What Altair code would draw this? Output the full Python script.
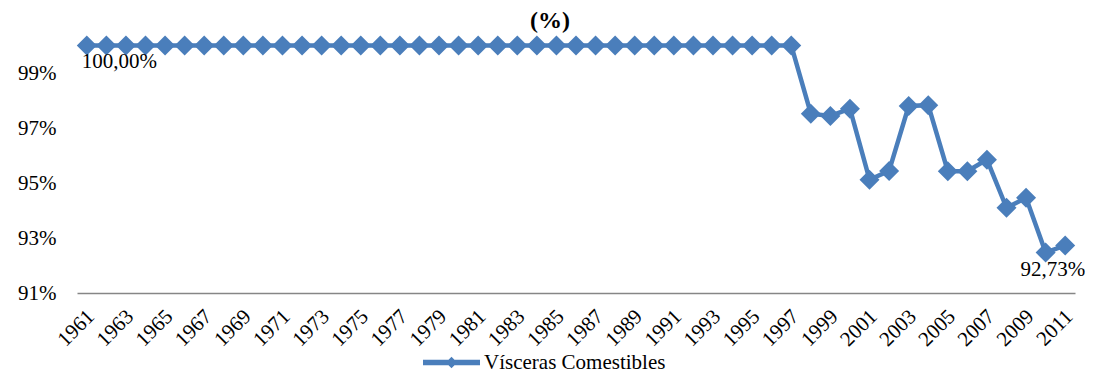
import altair as alt
import pandas as pd

years = list(range(1961, 2012))
flat_years = list(range(1961, 1998))
late_values = [97.52, 97.44, 97.70, 95.12, 95.44, 97.80, 97.83, 95.43, 95.43, 95.85,
               94.10, 94.46, 92.47, 92.73]
values = [100.0] * len(flat_years) + late_values
series_name = "Vísceras Comestibles"
tick_years = list(range(1961, 2012, 2))
y_ticks = [91, 93, 95, 97, 99]

df = pd.DataFrame({"year": years, "value": values, "series": series_name})
df["label"] = df["value"].map(lambda v: f"{v:.2f}".replace(".", ",") + "%")

BLUE = "#4A7EBB"
FONT = "Liberation Serif"
FS = 21

x = alt.X("year:Q",
          scale=alt.Scale(domain=[1960.5, 2011.5], nice=False, zero=False),
          axis=alt.Axis(values=tick_years, format="d", labelAngle=-45,
                        labelAlign="right", labelBaseline="middle",
                        labelPadding=20, labelOffset=4, ticks=False, grid=False,
                        domainColor="#868686", domainWidth=1.5,
                        labelFont=FONT, labelFontSize=FS, labelColor="black",
                        title=None, labelOverlap=False))
y = alt.Y("value:Q",
          scale=alt.Scale(domain=[91, 100.6], nice=False, zero=False),
          axis=alt.Axis(values=y_ticks, labelExpr="datum.value + '%'",
                        domain=False, ticks=False, grid=False, labelPadding=21,
                        labelFont=FONT, labelFontSize=FS, labelColor="black",
                        title=None))
color = alt.Color("series:N", scale=alt.Scale(range=[BLUE]),
                  legend=alt.Legend(title=None, orient="none", legendX=346, legendY=305,
                                    symbolType="M-1,-0.1 L1,-0.1 L1,0.1 L-1,0.1 Z M0,-0.2 L0.2,0 L0,0.2 L-0.2,0 Z",
                                    symbolSize=3249, symbolFillColor=BLUE,
                                    symbolStrokeWidth=0, labelFont=FONT,
                                    labelFontSize=FS, labelColor="black",
                                    labelOffset=4, labelLimit=500))

base = alt.Chart(df)
line = base.mark_line(strokeWidth=4.5).encode(x=x, y=y, color=color)
points = base.mark_point(shape="diamond", filled=True, size=400, opacity=1).encode(x=x, y=y, color=color)
first_lbl = base.transform_filter(alt.datum.year == 1961).mark_text(
    align="left", baseline="alphabetic", dx=-5, dy=22.5, font=FONT, fontSize=FS, color="black"
).encode(x=x, y=y, text="label:N")
last_lbl = base.transform_filter(alt.datum.year == 2011).mark_text(
    align="right", baseline="alphabetic", dx=20, dy=31, font=FONT, fontSize=FS, color="black"
).encode(x=x, y=y, text="label:N")

chart = alt.layer(line, points, first_lbl, last_lbl).properties(
    width=998, height=264,
    title=alt.TitleParams("(%)", font=FONT, fontSize=24, fontWeight="bold",
                          anchor="middle", dx=-26, offset=-4, color="black"),
    autosize=alt.AutoSizeParams(type="none"),
    padding={"left": 69, "top": 21, "right": 10, "bottom": 80},
).configure_view(stroke=None)

chart.save("out.html", embed_options={"renderer": "svg", "actions": False})
